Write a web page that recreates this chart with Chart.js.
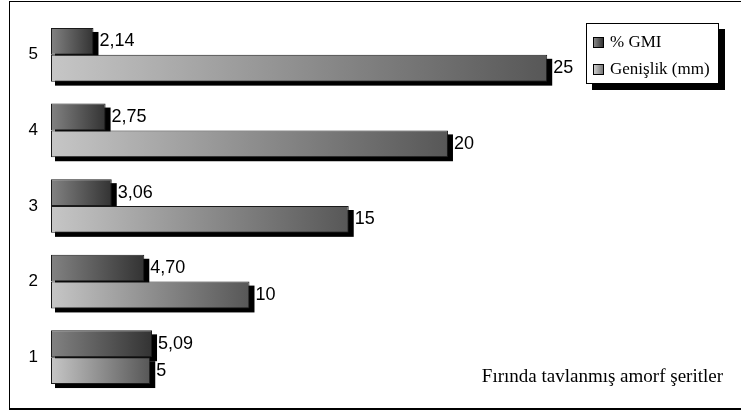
<!DOCTYPE html>
<html>
<head>
<meta charset="utf-8">
<script src="https://cdn.jsdelivr.net/npm/chart.js@4/dist/chart.umd.min.js"></script>
<style>
  html, body { margin:0; padding:0; background:#fff; }
  #wrap { position:relative; width:741px; height:412px; overflow:hidden; }
  #frame { position:absolute; left:9px; top:1px; width:731px; height:406px; border-left:1px solid #000; border-top:1px solid #000; border-right:1px solid #000; border-bottom:2px solid #000; box-sizing:content-box; }
  canvas { position:absolute; left:0; top:0; }
  #legend { position:absolute; left:586px; top:23px; width:131px; height:59px; border:1px solid #000; background:#fff; box-shadow:6px 6px 0 #000; font-family:"Liberation Serif","Times New Roman",serif; font-size:17px; color:#000; }
  .item { position:absolute; left:6px; height:20px; line-height:20px; white-space:nowrap; }
  .mk { display:inline-block; width:9px; height:9px; border:1px solid #000; vertical-align:middle; margin-right:6px; position:relative; top:-1px; }
  #caption { position:absolute; right:18px; top:365px; font-family:"Liberation Serif","Times New Roman",serif; font-size:19px; color:#000; white-space:nowrap; }
</style>
</head>
<body>
<div id="wrap">
  <div id="frame"></div>
  <canvas id="c" width="741" height="412"></canvas>
  <div id="legend">
    <div class="item" style="top:8px"><span class="mk" style="background:linear-gradient(to right,#888,#333)"></span>% GMI</div>
    <div class="item" style="top:35px"><span class="mk" style="background:linear-gradient(to right,#ccc,#777)"></span>Genişlik (mm)</div>
  </div>
  <div id="caption">Fırında tavlanmış amorf şeritler</div>
</div>
<script>
const categories = ['1', '2', '3', '4', '5'];
const gmiValues = [5.09, 4.70, 3.06, 2.75, 2.14];
const widthValues = [5, 10, 15, 20, 25];
const seriesNames = ['% GMI', 'Genişlik (mm)'];

function grad(c0, c1) {
  return function(ctx) {
    const chart = ctx.chart;
    if (!chart.chartArea || ctx.type !== 'data') return c1;
    const xs = chart.scales.x;
    const x0 = xs.getPixelForValue(0);
    const x1 = xs.getPixelForValue(ctx.raw);
    if (!isFinite(x0) || !isFinite(x1) || x1 - x0 < 1) return c1;
    const g = chart.ctx.createLinearGradient(x0, 0, x1, 0);
    g.addColorStop(0, c0);
    g.addColorStop(1, c1);
    return g;
  };
}

const shadowPlugin = {
  id: 'shadow',
  beforeDatasetsDraw(chart) {
    const c = chart.ctx;
    c.save();
    c.fillStyle = '#000';
    chart.data.datasets.forEach((ds, i) => {
      const meta = chart.getDatasetMeta(i);
      meta.data.forEach(bar => {
        const p = bar.getProps(['x', 'y', 'base', 'height'], true);
        c.fillRect(p.base + 4, p.y - p.height / 2 + 4, p.x - p.base + 1, p.height);
      });
    });
    c.restore();
  }
};

const labelPlugin = {
  id: 'valueLabels',
  afterDatasetsDraw(chart) {
    const c = chart.ctx;
    c.save();
    c.fillStyle = '#000';
    c.font = '18px "Liberation Sans", Arial, sans-serif';
    c.textBaseline = 'middle';
    c.textAlign = 'left';
    chart.data.datasets.forEach((ds, i) => {
      const meta = chart.getDatasetMeta(i);
      meta.data.forEach((bar, j) => {
        const p = bar.getProps(['x', 'y'], true);
        const v = ds.data[j];
        const txt = i === 0 ? v.toFixed(2).replace('.', ',') : String(v);
        c.fillText(txt, p.x + 6, p.y);
      });
    });
    c.restore();
  }
};

new Chart(document.getElementById('c'), {
  type: 'bar',
  data: {
    labels: categories,
    datasets: [
      { label: seriesNames[0], data: gmiValues, backgroundColor: grad('#828282', '#333333'), borderColor: '#1a1a1a', borderWidth: 1, borderSkipped: false, categoryPercentage: 0.71, barPercentage: 1 },
      { label: seriesNames[1], data: widthValues, backgroundColor: grad('#c6c6c6', '#575757'), borderColor: '#1a1a1a', borderWidth: 1, borderSkipped: false, categoryPercentage: 0.71, barPercentage: 1 }
    ]
  },
  options: {
    indexAxis: 'y',
    responsive: false,
    animation: false,
    events: [],
    layout: { padding: { left: 10, right: 35, top: 17, bottom: 17 } },
    plugins: { legend: { display: false }, tooltip: { enabled: false } },
    scales: {
      x: { display: false, min: 0, max: 33 },
      y: {
        reverse: true,
        grid: { display: false, drawTicks: false },
        border: { display: false },
        ticks: { color: '#000', padding: 13, font: { family: '"Liberation Sans", Arial, sans-serif', size: 17 } },
        afterFit(s) { s.width = 41; s.paddingTop = 0; s.paddingBottom = 0; }
      }
    }
  },
  plugins: [shadowPlugin, labelPlugin]
});
</script>
</body>
</html>
